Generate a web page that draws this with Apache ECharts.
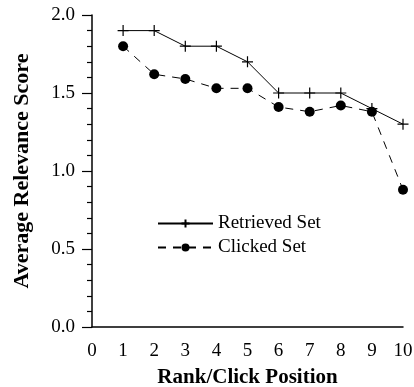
<!DOCTYPE html>
<html>
<head>
<meta charset="utf-8">
<script src="https://cdn.jsdelivr.net/npm/echarts@6/dist/echarts.min.js"></script>
<style>
  html, body { margin: 0; padding: 0; background: #fff; }
  #chart { width: 414px; height: 387px; }
</style>
</head>
<body>
<div id="chart"></div>
<script>
// rank/click positions on the x axis
const positions = [1, 2, 3, 4, 5, 6, 7, 8, 9, 10];
// average relevance scores
const retrievedSet = [1.9, 1.9, 1.8, 1.8, 1.7, 1.5, 1.5, 1.5, 1.4, 1.3];
const clickedSet = [1.80, 1.62, 1.59, 1.53, 1.53, 1.41, 1.38, 1.42, 1.38, 0.88];

const font = "'Liberation Serif', 'Times New Roman', serif";
const plus = "path://M0,5L10,5M5,0L5,10";

const chart = echarts.init(document.getElementById("chart"));

const options = {
  animation: false,
  textStyle: { fontFamily: font, color: "#000" },
  grid: { left: 92, right: 11, top: 15, bottom: 60, outerBoundsMode: "none" },
  legend: {
    orient: "vertical",
    left: 152,
    top: 209,
    itemWidth: 55,
    itemHeight: 10,
    itemGap: 5,
    textStyle: { fontFamily: font, fontSize: 19, color: "#000" },
    data: ["Retrieved Set", "Clicked Set"],
  },
  xAxis: {
    type: "value",
    min: 0,
    max: 10,
    interval: 1,
    name: "Rank/Click Position",
    nameLocation: "middle",
    nameGap: 40,
    nameTextStyle: { fontFamily: font, fontSize: 21, fontWeight: "bold", color: "#000" },
    axisLine: { lineStyle: { color: "#000", width: 1.5 } },
    axisTick: { show: false },
    axisLabel: { fontFamily: font, fontSize: 19, color: "#000", margin: 15 },
    splitLine: { show: false },
  },
  yAxis: {
    type: "value",
    min: 0,
    max: 2,
    interval: 0.5,
    name: "Average Relevance Score",
    nameLocation: "middle",
    nameGap: 59,
    nameTextStyle: { fontFamily: font, fontSize: 22, fontWeight: "bold", color: "#000" },
    axisLine: { show: true, lineStyle: { color: "#000", width: 1.5 } },
    axisTick: { show: true, length: 10, lineStyle: { color: "#000", width: 1.2 } },
    minorTick: { show: true, splitNumber: 5, length: 5, lineStyle: { color: "#000", width: 1.2 } },
    axisLabel: {
      fontFamily: font,
      fontSize: 19,
      color: "#000",
      margin: 17,
      formatter: (v) => v.toFixed(1),
    },
    splitLine: { show: false },
  },
  series: [
    {
      name: "Retrieved Set",
      type: "line",
      data: positions.map((p, i) => [p, retrievedSet[i]]),
      symbol: plus,
      symbolSize: 11,
      showAllSymbol: true,
      lineStyle: { color: "#000", width: 1 },
      itemStyle: { color: "#000", borderColor: "#000", borderWidth: 1.2 },
    },
    {
      name: "Clicked Set",
      type: "line",
      data: positions.map((p, i) => [p, clickedSet[i]]),
      symbol: "circle",
      symbolSize: 10,
      showAllSymbol: true,
      lineStyle: { color: "#000", width: 1, type: [8, 7] },
      itemStyle: { color: "#000", borderColor: "#000", borderWidth: 0 },
    },
  ],
};

chart.setOption(options);
</script>
</body>
</html>
